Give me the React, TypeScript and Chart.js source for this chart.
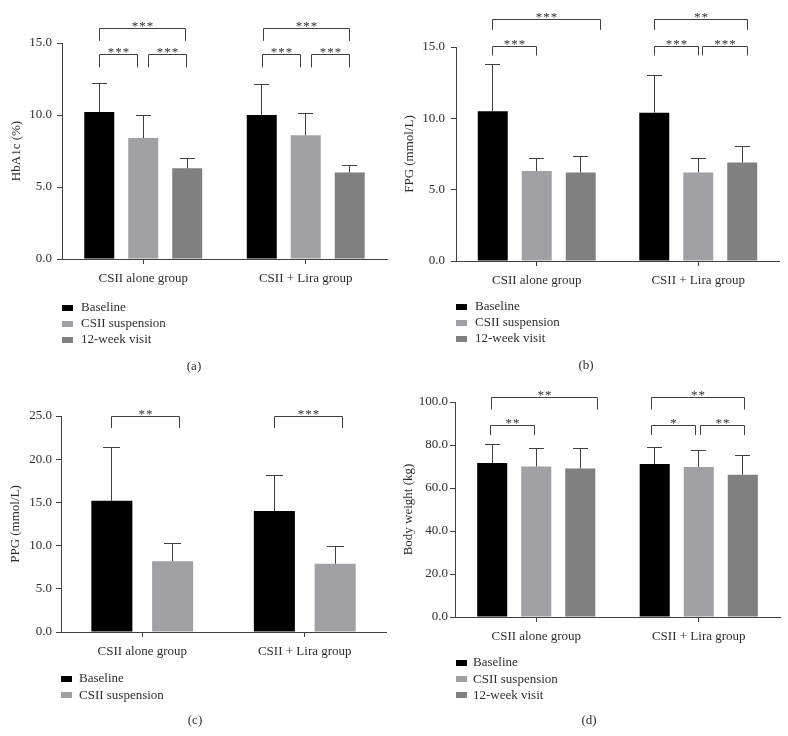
import React, { useEffect, useRef } from 'react';
import { Chart, registerables } from 'chart.js';

Chart.register(...registerables);

const FONT = '"Liberation Serif", "Times New Roman", serif';
const TEXT = '#2e2e2e';
const LINE = '#404040';

// ---------- shared categories / series ----------
const groups = ['CSII alone group', 'CSII + Lira group'];
const seriesNames = ['Baseline', 'CSII suspension', '12-week visit'];
const seriesColors = ['#000000', '#a1a1a5', '#808080'];

// ---------- (a) HbA1c (%) ----------
const hba1cBaseline = [10.2, 10.0];
const hba1cBaselineSD = [2.0, 2.1];
const hba1cSuspension = [8.4, 8.6];
const hba1cSuspensionSD = [1.6, 1.5];
const hba1cWeek12 = [6.3, 6.0];
const hba1cWeek12SD = [0.7, 0.5];
const hba1cTicks = { max: 15, step: 5 };

// ---------- (b) FPG (mmol/L) ----------
const fpgBaseline = [10.5, 10.4];
const fpgBaselineSD = [3.3, 2.6];
const fpgSuspension = [6.3, 6.2];
const fpgSuspensionSD = [0.9, 1.0];
const fpgWeek12 = [6.2, 6.9];
const fpgWeek12SD = [1.1, 1.1];
const fpgTicks = { max: 15, step: 5 };

// ---------- (c) PPG (mmol/L) ----------
const ppgBaseline = [15.2, 14.0];
const ppgBaselineSD = [6.1, 4.1];
const ppgSuspension = [8.2, 7.9];
const ppgSuspensionSD = [2.1, 2.0];
const ppgTicks = { max: 25, step: 5 };

// ---------- (d) Body weight (kg) ----------
const bwBaseline = [71.6, 71.2];
const bwBaselineSD = [8.5, 7.8];
const bwSuspension = [70.0, 69.8];
const bwSuspensionSD = [8.6, 7.5];
const bwWeek12 = [69.1, 66.2];
const bwWeek12SD = [9.2, 9.1];
const bwTicks = { max: 100, step: 20 };

// ---------- significance brackets (a,b = series index, g = group index, y/drop in data units) ----------
type Bracket = { a: number; b: number; g: number; y: number; drop: number; label: string; dxA: number; dxB: number };

const hba1cBrackets: Bracket[] = [
  { a: 0, b: 2, g: 0, y: 16.0, drop: 15.15, label: '***', dxA: 0, dxB: -2 },
  { a: 0, b: 1, g: 0, y: 14.2, drop: 13.3, label: '***', dxA: 0, dxB: -6 },
  { a: 1, b: 2, g: 0, y: 14.2, drop: 13.3, label: '***', dxA: 5, dxB: -1 },
  { a: 0, b: 2, g: 1, y: 16.0, drop: 15.15, label: '***', dxA: 2, dxB: 0 },
  { a: 0, b: 1, g: 1, y: 14.2, drop: 13.3, label: '***', dxA: 1, dxB: -5 },
  { a: 1, b: 2, g: 1, y: 14.2, drop: 13.3, label: '***', dxA: 6, dxB: 0 },
];
const fpgBrackets: Bracket[] = [
  { a: 0, b: 2, g: 0, y: 16.9, drop: 16.2, label: '***', dxA: 0, dxB: 20 },
  { a: 0, b: 1, g: 0, y: 15.05, drop: 14.4, label: '***', dxA: 0, dxB: 0 },
  { a: 0, b: 2, g: 1, y: 16.9, drop: 16.2, label: '**', dxA: 0, dxB: 5 },
  { a: 0, b: 1, g: 1, y: 15.05, drop: 14.4, label: '***', dxA: 0, dxB: 0 },
  { a: 1, b: 2, g: 1, y: 15.05, drop: 14.4, label: '***', dxA: 4, dxB: 5 },
];
const ppgBrackets: Bracket[] = [
  { a: 0, b: 1, g: 0, y: 24.9, drop: 23.6, label: '**', dxA: 0, dxB: 7 },
  { a: 0, b: 1, g: 1, y: 24.9, drop: 23.6, label: '***', dxA: 0, dxB: 7 },
];
const bwBrackets: Bracket[] = [
  { a: 0, b: 2, g: 0, y: 102.1, drop: 96.5, label: '**', dxA: -1, dxB: 17 },
  { a: 0, b: 1, g: 0, y: 89.2, drop: 84.6, label: '**', dxA: -2, dxB: -2 },
  { a: 0, b: 2, g: 1, y: 102.1, drop: 96.5, label: '**', dxA: -3, dxB: 2 },
  { a: 0, b: 1, g: 1, y: 89.2, drop: 84.6, label: '*', dxA: -3, dxB: -3 },
  { a: 1, b: 2, g: 1, y: 89.2, drop: 84.6, label: '**', dxA: 2, dxB: 2 },
];

// ---------- panel layout ----------
type Series = { name: string; color: string; mean: number[]; sd: number[] };
type PanelCfg = {
  letter: string;
  yTitle: string;
  ticks: { max: number; step: number };
  series: Series[];
  brackets: Bracket[];
  px: number;
  py: number;
  h: number;
  area: { left: number; right: number; top: number; bottom: number };
  titlePad: number;
  tickPad: number;
  catPct: number;
  barPct: number;
  capHalf: number;
  legendTop: number;
  legendX: number;
  legendTextX: number;
  letterX: number;
  letterY: number;
};

const W = 394;

const mk = (idx: number[], means: number[][], sds: number[][]): Series[] =>
  idx.map((k, i) => ({ name: seriesNames[k], color: seriesColors[k], mean: means[i], sd: sds[i] }));

const panels: PanelCfg[] = [
  {
    letter: '(a)', yTitle: 'HbA1c (%)', ticks: hba1cTicks,
    series: mk([0, 1, 2], [hba1cBaseline, hba1cSuspension, hba1cWeek12], [hba1cBaselineSD, hba1cSuspensionSD, hba1cWeek12SD]),
    brackets: hba1cBrackets, px: 0, py: 0, h: 382,
    area: { left: 62, right: 387, top: 43, bottom: 259 },
    titlePad: 9, tickPad: 5, catPct: 0.812, barPct: 0.682, capHalf: 7.5,
    legendTop: 307.5, legendX: 62, legendTextX: 81, letterX: 194, letterY: 367,
  },
  {
    letter: '(b)', yTitle: 'FPG (mmol/L)', ticks: fpgTicks,
    series: mk([0, 1, 2], [fpgBaseline, fpgSuspension, fpgWeek12], [fpgBaselineSD, fpgSuspensionSD, fpgWeek12SD]),
    brackets: fpgBrackets, px: 394, py: 0, h: 382,
    area: { left: 62, right: 385, top: 47, bottom: 261 },
    titlePad: 8, tickPad: 6, catPct: 0.817, barPct: 0.682, capHalf: 7.5,
    legendTop: 306.5, legendX: 62, legendTextX: 81, letterX: 192, letterY: 365.5,
  },
  {
    letter: '(c)', yTitle: 'PPG (mmol/L)', ticks: ppgTicks,
    series: mk([0, 1], [ppgBaseline, ppgSuspension], [ppgBaselineSD, ppgSuspensionSD]),
    brackets: ppgBrackets, px: 0, py: 368, h: 368,
    area: { left: 61, right: 386, top: 48, bottom: 264 },
    titlePad: 7.5, tickPad: 4, catPct: 0.748, barPct: 0.675, capHalf: 8.5,
    legendTop: 311, legendX: 61, legendTextX: 79, letterX: 195, letterY: 353,
  },
  {
    letter: '(d)', yTitle: 'Body weight (kg)', ticks: bwTicks,
    series: mk([0, 1, 2], [bwBaseline, bwSuspension, bwWeek12], [bwBaselineSD, bwSuspensionSD, bwWeek12SD]),
    brackets: bwBrackets, px: 394, py: 368, h: 368,
    area: { left: 61, right: 386, top: 34, bottom: 249 },
    titlePad: 6.5, tickPad: 2, catPct: 0.813, barPct: 0.682, capHalf: 7.5,
    legendTop: 295, legendX: 62, legendTextX: 79, letterX: 195, letterY: 353,
  },
];

const crisp = (v: number) => Math.round(v - 0.5) + 0.5;

function Panel({ cfg }: { cfg: PanelCfg }) {
  const ref = useRef<HTMLCanvasElement | null>(null);

  useEffect(() => {
    const canvas = ref.current;
    if (!canvas) return;

    const overlay = {
      id: 'overlay',
      afterDatasetsDraw(chart: any) {
        const ctx = chart.ctx;
        const ys = chart.scales.y;
        ctx.save();
        ctx.strokeStyle = LINE;
        ctx.lineWidth = 1;
        cfg.series.forEach((s, i) => {
          const meta = chart.getDatasetMeta(i);
          meta.data.forEach((bar: any, j: number) => {
            const x = crisp(bar.x);
            const yTop = crisp(ys.getPixelForValue(s.mean[j] + s.sd[j]));
            const yBar = ys.getPixelForValue(s.mean[j]);
            ctx.beginPath();
            ctx.moveTo(x, yBar);
            ctx.lineTo(x, yTop);
            ctx.moveTo(x - cfg.capHalf, yTop);
            ctx.lineTo(x + cfg.capHalf, yTop);
            ctx.stroke();
          });
        });
        ctx.restore();
      },
      afterDraw(chart: any) {
        const ctx = chart.ctx;
        const ys = chart.scales.y;
        ctx.save();
        // brackets
        ctx.strokeStyle = LINE;
        ctx.lineWidth = 1;
        ctx.fillStyle = TEXT;
        ctx.font = `13px ${FONT}`;
        ctx.textAlign = 'center';
        ctx.textBaseline = 'alphabetic';
        cfg.brackets.forEach((br) => {
          const xa = crisp(chart.getDatasetMeta(br.a).data[br.g].x + br.dxA);
          const xb = crisp(chart.getDatasetMeta(br.b).data[br.g].x + br.dxB);
          const yl = crisp(ys.getPixelForValue(br.y));
          const yd = ys.getPixelForValue(br.drop);
          ctx.beginPath();
          ctx.moveTo(xa, yd);
          ctx.lineTo(xa, yl);
          ctx.lineTo(xb, yl);
          ctx.lineTo(xb, yd);
          ctx.stroke();
          // spaced asterisks
          const n = br.label.length;
          const gap = 7.5;
          const mid = (xa + xb) / 2;
          for (let k = 0; k < n; k++) {
            ctx.fillText(br.label[k], mid + (k - (n - 1) / 2) * gap, yl + 1);
          }
        });
        // legend
        ctx.textAlign = 'left';
        ctx.textBaseline = 'middle';
        cfg.series.forEach((s, i) => {
          const cy = cfg.legendTop + i * 16.2;
          ctx.fillStyle = s.color;
          ctx.fillRect(cfg.legendX, Math.round(cy - 3), 11, 6);
          ctx.fillStyle = TEXT;
          ctx.fillText(s.name, cfg.legendTextX, cy);
        });
        // panel letter
        ctx.textAlign = 'center';
        ctx.fillText(cfg.letter, cfg.letterX, cfg.letterY);
        ctx.restore();
      },
    };

    const chart = new Chart(canvas, {
      type: 'bar',
      data: {
        labels: groups,
        datasets: cfg.series.map((s) => ({
          label: s.name,
          data: s.mean,
          backgroundColor: s.color,
          borderWidth: 0,
          categoryPercentage: cfg.catPct,
          barPercentage: cfg.barPct,
        })),
      },
      options: {
        responsive: false,
        animation: false,
        devicePixelRatio: 1,
        layout: {
          padding: { left: 0, right: W - cfg.area.right, top: cfg.area.top, bottom: 0 },
        },
        plugins: {
          legend: { display: false },
          tooltip: { enabled: false },
        },
        scales: {
          x: {
            type: 'category',
            offset: true,
            grid: { offset: false, drawOnChartArea: false, drawTicks: true, tickLength: 5, color: LINE, lineWidth: 1 },
            border: { display: true, color: LINE, width: 1 },
            ticks: { font: { family: FONT, size: 13 }, color: TEXT, padding: 6.5, maxRotation: 0, autoSkip: false },
            afterFit: (s: any) => { s.height = cfg.h - cfg.area.bottom; },
          },
          y: {
            min: 0,
            max: cfg.ticks.max,
            grid: { drawOnChartArea: false, drawTicks: true, tickLength: 5, color: LINE, lineWidth: 1 },
            border: { display: true, color: LINE, width: 1 },
            ticks: {
              stepSize: cfg.ticks.step,
              font: { family: FONT, size: 13 },
              color: TEXT,
              padding: cfg.tickPad,
              callback: (v: any) => Number(v).toFixed(1),
            },
            title: {
              display: true,
              text: cfg.yTitle,
              font: { family: FONT, size: 13, lineHeight: 1.2 },
              color: TEXT,
              padding: { top: cfg.titlePad, bottom: 0 },
            },
            afterFit: (s: any) => { s.width = cfg.area.left; },
          },
        },
      },
      plugins: [overlay],
    } as any);

    return () => chart.destroy();
  }, [cfg]);

  return (
    <canvas
      ref={ref}
      width={W}
      height={cfg.h}
      style={{ position: 'absolute', left: cfg.px, top: cfg.py, width: W, height: cfg.h }}
    />
  );
}

export default function App() {
  return (
    <div style={{ position: 'absolute', left: 0, top: 0, width: 788, height: 736, background: '#ffffff' }}>
      {panels.map((p) => (
        <Panel key={p.letter} cfg={p} />
      ))}
    </div>
  );
}
